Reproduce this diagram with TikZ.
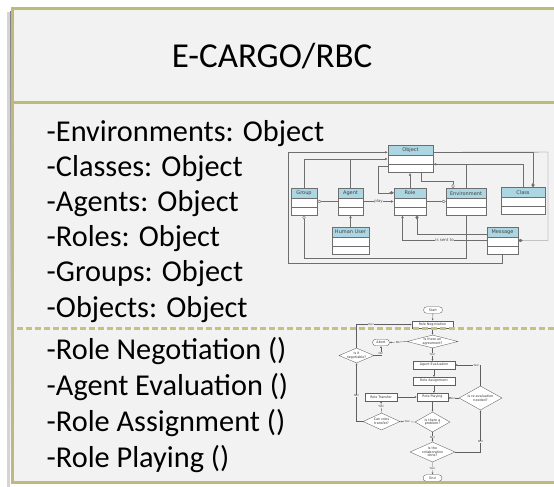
\documentclass[tikz,border=0pt]{standalone}
\usepackage{fontspec}
\setmainfont{Carlito}
\newfontfamily\diagfont{DejaVu Sans}
\usetikzlibrary{arrows.meta,shapes.geometric,shapes.misc}

\definecolor{frameline}{RGB}{192,186,122}
\definecolor{dashline}{RGB}{200,192,128}
\definecolor{slidebg}{RGB}{242,242,242}
\definecolor{shade}{RGB}{160,160,168}
\definecolor{umlhead}{RGB}{172,214,226}
\definecolor{umlline}{RGB}{110,110,110}
\definecolor{flowline}{RGB}{95,95,95}

\tikzset{
  title/.style={anchor=base,inner sep=0pt,font=\fontsize{35}{42}\selectfont},
  item/.style={anchor=base west,inner sep=0pt,font=\fontsize{30.3}{36}\selectfont},
  umltext/.style={inner sep=0pt,text=black!75,font=\diagfont\fontsize{5}{6}\selectfont},
  umlclass/.style={draw=umlline,fill=white,line width=0.4pt,inner sep=0pt,minimum height=27pt,
    path picture={
      \fill[umlhead] (path picture bounding box.north west) rectangle ([yshift=-10pt]path picture bounding box.north east);
      \draw[umlline,line width=0.3pt]
        ([yshift=-10pt]path picture bounding box.north west) -- ([yshift=-10pt]path picture bounding box.north east)
        ([yshift=-19pt]path picture bounding box.north west) -- ([yshift=-19pt]path picture bounding box.north east);
    },
    label={[umltext,anchor=center,yshift=-5pt]north:#1}},
  umlwire/.style={draw=umlline,line width=0.45pt},
  umlnote/.style={inner sep=0.4pt,fill=slidebg,text=black!70,font=\diagfont\fontsize{4}{5}\selectfont},
  inherit/.style={umlwire,-{Latex[length=2.8pt,width=2.4pt]}},
  whole/.style={umlwire,-{Diamond[length=4.5pt,width=3.2pt]}},
  part/.style={umlwire,-{Diamond[length=4.5pt,width=3.2pt,fill=white]}},
  fcstep/.style={draw=flowline,fill=white,line width=0.35pt,inner sep=0.5pt,minimum height=7.5pt,
    text=black!80,font=\diagfont\fontsize{3.3}{3.6}\selectfont},
  fcask/.style={diamond,draw=flowline,fill=white,line width=0.35pt,inner sep=-1.5pt,align=center,
    text=black!80,font=\diagfont\fontsize{3.3}{3.6}\selectfont},
  fcterm/.style={rounded rectangle,draw=flowline,fill=white,line width=0.35pt,inner sep=0.5pt,
    minimum width=20pt,minimum height=6.5pt,text=black!80,font=\diagfont\fontsize{3.3}{3.6}\selectfont},
  fcwire/.style={draw=flowline,line width=0.35pt,-{Latex[length=2pt,width=1.8pt]}},
  fcnote/.style={inner sep=0.3pt,fill=slidebg,text=black!75,font=\diagfont\fontsize{2.8}{3}\selectfont}
}

\begin{document}
\begin{tikzpicture}[x=1pt,y=-1pt]
\useasboundingbox (0,0) rectangle (554,487);
\clip (0,0) rectangle (554,487);
\fill[white] (0,0) rectangle (554,487);

% slide frame
\fill[shade!45] (7,12) rectangle (566,488);
\fill[shade] (10,12) rectangle (566,487);
\draw[frameline,line width=3pt,fill=slidebg] (12,8.5) rectangle (562,482.5);
\draw[frameline,line width=3.2pt] (12,102.5) -- (562,102.5);

\node[title] (head) at (272,67) {E-CARGO/RBC};

\node[item] (envs) at (46.5,141) {-Environments: Object};
\node[item] (clss) at (46.5,176.2) {-Classes: Object};
\node[item] (agts) at (46.5,211.4) {-Agents: Object};
\node[item] (rols) at (46.5,246.6) {-Roles: Object};
\node[item] (grps) at (46.5,281.8) {-Groups: Object};
\node[item] (objs) at (46.5,317) {-Objects: Object};

\node[item] (m1) at (46.5,359) {-Role Negotiation ()};
\node[item] (m2) at (46.5,395) {-Agent Evaluation ()};
\node[item] (m3) at (46.5,431) {-Role Assignment ()};
\node[item] (m4) at (46.5,467) {-Role Playing ()};

% class model
\node[umlclass=Object,minimum width=45pt] (obj) at (410.5,159) {};
\node[umlclass=Group,minimum width=26pt] (grp) at (304,201.5) {};
\node[umlclass=Agent,minimum width=25pt] (agt) at (350.5,201.5) {};
\node[umlclass=Role,minimum width=32pt] (role) at (410,201.5) {};
\node[umlclass=Environment,minimum width=40pt] (env) at (466,202) {};
\node[umlclass=Class,minimum width=44pt] (cls) at (523,201) {};
\node[umlclass=Human User,minimum width=37pt] (usr) at (350.5,240.5) {};
\node[umlclass=Message,minimum width=31pt] (msg) at (502.5,240.5) {};

\coordinate (loopsw) at (288,263);
\coordinate (loopne) at (548,152);
\coordinate (grpfoot) at (466,258);
\coordinate (objin) at ([yshift=-19pt]obj.north east);

\draw[inherit] (msg.south) |- (loopsw) |- ([yshift=-7pt]obj.north west);
\draw[inherit] (grp.north) |- (obj.west);
\draw[umlwire] (agt.north) -- (agt.north |- obj.west);
\draw[whole] ([yshift=-7pt]obj.north east) -- (loopne) |- (msg.east);
\draw[whole] ([yshift=-7pt]obj.north east) -| ([xshift=10pt]cls.north);
\draw[inherit] (cls.north) |- (objin);
\draw[umlwire,{Diamond[length=4.5pt,width=3.2pt,fill=white]}-] (grp.south) |- (grpfoot) -- (env.south);
\draw[umlwire] (env.north) -- (env.north |- objin);
\draw[inherit] (role.north) -- (role.north |- obj.south);
\draw[whole] ([yshift=-21pt]obj.north west) -- ++(-10,0) |- ([yshift=-5pt]role.north west);
\draw[part] ([xshift=11pt]obj.south) -- ++(0,9) -| ([xshift=-13pt]env.north);
\draw[umlwire,{Diamond[length=4.5pt,width=3.2pt,fill=white]}-] (grp.east) -- (agt.west);
\draw[inherit] (agt.east) -- node[umlnote] {play} (role.west);
\draw[part] (role.east) -- (role.east -| env.west);
\draw[inherit] (usr.north) -- (agt.south);
\draw[inherit] (msg.west) -| node[umlnote,pos=0.25] {is sent to} ([xshift=-7.5pt]role.south);
\draw[umlwire,{Diamond[length=4.5pt,width=3.2pt]}-] ([xshift=7pt]role.south) |- ([yshift=-7pt]msg.north west);

% process flow
\node[fcterm] (start) at (433,310) {Start};
\node[fcstep,minimum width=41pt] (neg) at (432.5,324.5) {Role Negotiation};
\node[fcask,minimum width=51pt,minimum height=13pt,shape aspect=3.9] (agree) at (432.5,341.5) {Is there an\\agreement?};
\node[fcterm,minimum width=18pt] (abort) at (381,342.5) {Abort};
\node[fcask,minimum width=35pt,minimum height=15pt,shape aspect=2.3] (negot) at (356.5,355.5) {Is it\\negotiable?};
\node[fcstep,minimum width=42pt] (evalA) at (434,365) {Agent Evaluation};
\node[fcstep,minimum width=42pt] (assign) at (434,381) {Role Assignment};
\node[fcstep,minimum width=31pt] (play) at (432.5,397) {Role Playing};
\node[fcstep,minimum width=32pt] (transfer) at (381,397) {Role Transfer};
\node[fcask,minimum width=43pt,minimum height=24pt,shape aspect=1.8] (reeval) at (480.5,398) {Is re-evaluation\\needed?};
\node[fcask,minimum width=35pt,minimum height=20pt,shape aspect=1.75] (problem) at (432.5,422) {Is there a\\problem?};
\node[fcask,minimum width=37pt,minimum height=17pt,shape aspect=2.2] (canmove) at (381.5,421.5) {Can roles\\transfer?};
\node[fcask,minimum width=45pt,minimum height=20pt,shape aspect=2.25] (done) at (432.5,452) {Is the\\collaboration\\done?};
\node[fcterm] (stop) at (432.5,478) {End};

\draw[fcwire] (start) -- (neg);
\draw[fcwire] (neg) -- (agree);
\draw[fcwire] (agree.west) -- node[fcnote] {No!} (abort.east);
\draw[fcwire] (agree.south) -- node[fcnote] {Yes!} (agree.south |- evalA.north);
\draw[fcwire] (negot.east) -| node[fcnote,pos=0.6] {No!} (abort.south);
\draw[fcwire] (negot.north) |- node[fcnote,pos=0.63] {Yes!} (neg.west);
\draw[fcwire] (evalA) -- (assign);
\draw[fcwire] (assign.south) -- (assign.south |- play.north);
\draw[fcwire] (transfer) -- (play);
\draw[fcwire] (reeval.west) -- node[fcnote,pos=0.6] {No!} (reeval.west -| play.east);
\draw[fcwire] (reeval.north) |- node[fcnote,pos=0.58] {Yes!} (evalA.east);
\draw[fcwire] (play) -- (problem);
\draw[fcwire] (problem.west) -- node[fcnote] {Yes!} (canmove.east);
\draw[fcwire] (canmove.north) -- node[fcnote] {Yes!} (transfer.south);
\draw[fcwire] (canmove.west) -| node[fcnote,pos=0.72] {No!} (negot.south);
\draw[fcwire] (problem) -- node[fcnote] {No!} (done);
\draw[fcwire] (done.east) -| node[fcnote,pos=0.62] {No!} (reeval.south);
\draw[fcwire] (done) -- node[fcnote] {Yes!} (stop);

\draw[dashline,line width=3pt,dash pattern=on 6pt off 3pt] (17,328.5) -- (562,328.5);
\end{tikzpicture}
\end{document}
